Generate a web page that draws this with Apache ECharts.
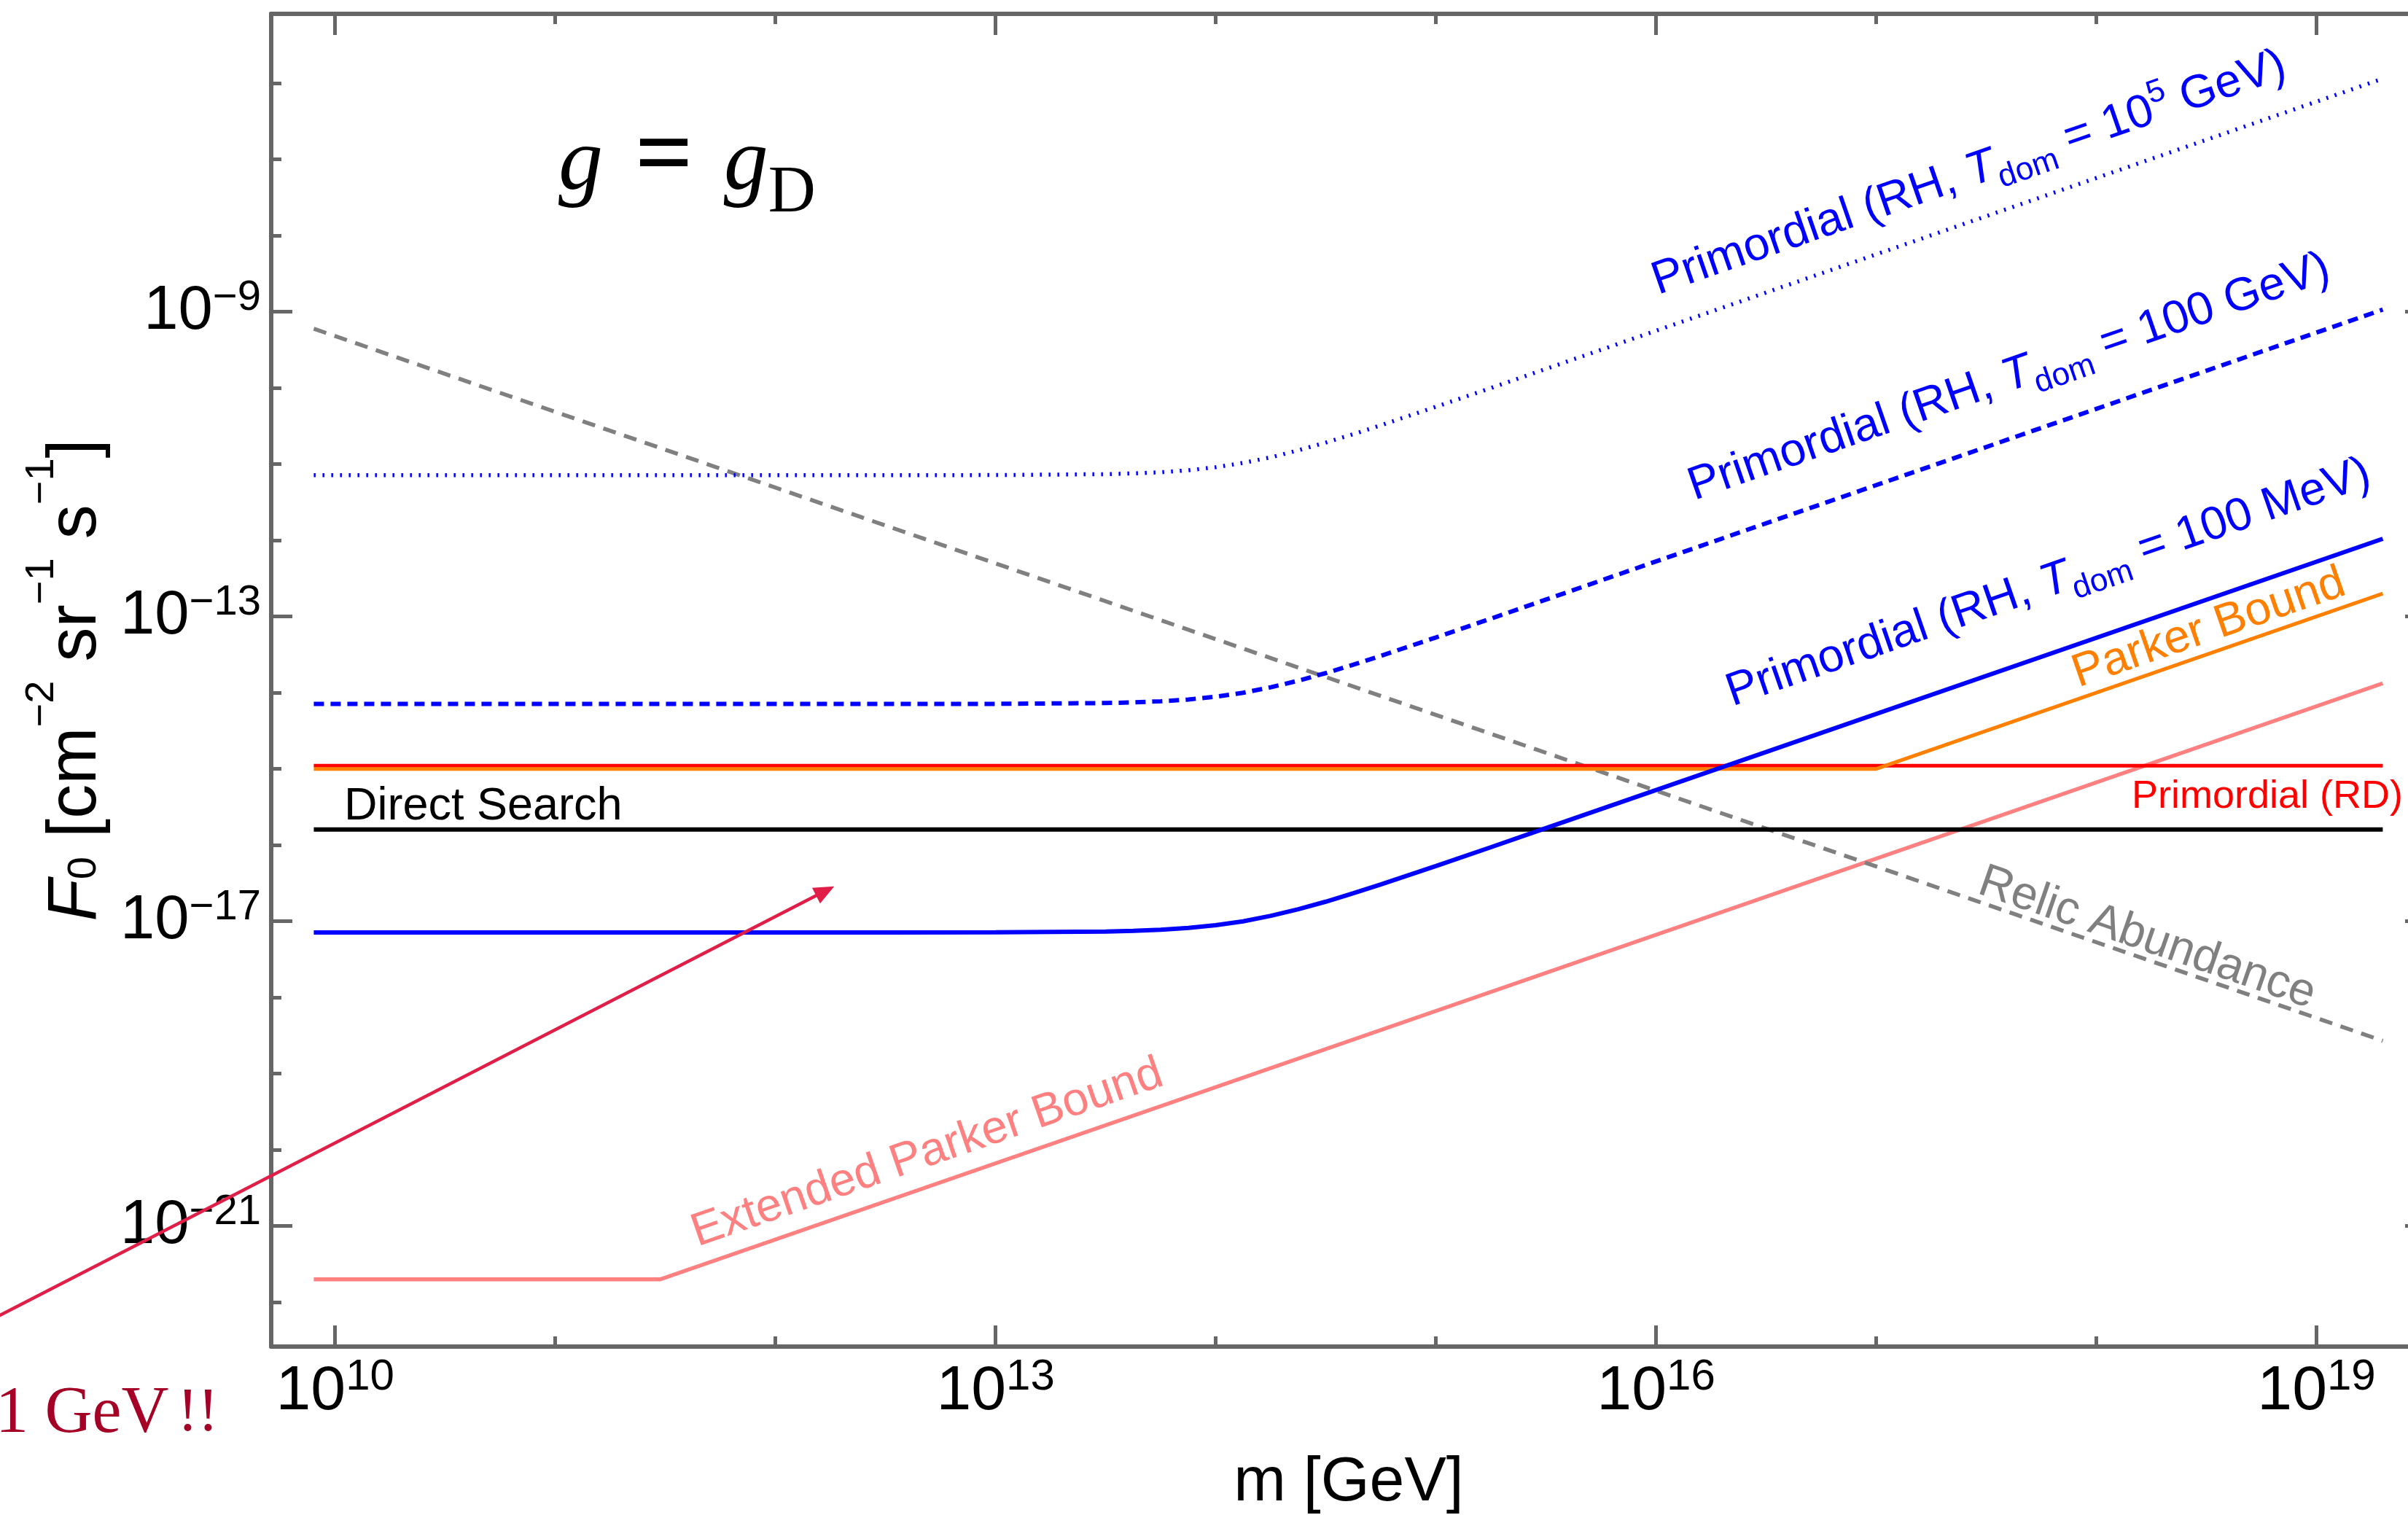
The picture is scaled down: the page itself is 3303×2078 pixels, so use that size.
<!DOCTYPE html>
<html>
<head>
<meta charset="utf-8">
<script src="https://cdn.jsdelivr.net/npm/echarts@6/dist/echarts.min.js"></script>
<style>
html,body{margin:0;padding:0;background:#ffffff;}
#c{width:3303px;height:2078px;}
</style>
</head>
<body>
<div id="c"></div>
<script>
// ---------------- data ----------------
// tick positions
const xTickMajor = [1e10, 1e13, 1e16, 1e19];
const xTickMinor = [1e10, 1e11, 1e12, 1e13, 1e14, 1e15, 1e16, 1e17, 1e18, 1e19];
const yTickMajor = [1e-9, 1e-13, 1e-17, 1e-21];
const yTickMinor = [1e-6, 1e-7, 1e-8, 1e-9, 1e-10, 1e-11, 1e-12, 1e-13, 1e-14, 1e-15, 1e-16,
                    1e-17, 1e-18, 1e-19, 1e-20, 1e-21, 1e-22];

// Relic Abundance (grey dashed)
const relicMass = [8e9, 2e19];
const relicFlux = [6.0e-10, 2.7e-19];

// Direct Search (black)
const directMass = [8e9, 2e19];
const directFlux = [1.6e-16, 1.6e-16];

// Primordial (RD) (red)
const rdMass = [8e9, 2e19];
const rdFlux = [1.1e-15, 1.1e-15];

// Parker Bound (orange)
const parkerMass = [8e9, 1e17, 2e19];
const parkerFlux = [1e-15, 1e-15, 2.0e-13];

// Extended Parker Bound (salmon)
const extParkerMass = [8e9, 3e11, 2e19];
const extParkerFlux = [2e-22, 2e-22, 1.33e-14];

// Primordial (RH) curves, common mass samples
const rhMass = [8e9, 3.16e12, 1e13, 3.16e13, 4.22e13, 5.62e13, 7.5e13, 1e14, 1.33e14, 1.78e14,
                2.37e14, 3.16e14, 4.22e14, 5.62e14, 1e15, 1.78e15, 3.16e15, 2e19];
const rh100MeVFlux = [7.14e-18, 7.14e-18, 7.16e-18, 7.34e-18, 7.48e-18, 7.74e-18, 8.17e-18, 8.88e-18,
                      1.00e-17, 1.18e-17, 1.44e-17, 1.81e-17, 2.34e-17, 3.05e-17, 5.32e-17, 9.40e-17,
                      1.67e-16, 1.05e-12];
const rh100GeVFlux = [7.13e-15, 7.13e-15, 7.15e-15, 7.33e-15, 7.47e-15, 7.73e-15, 8.16e-15, 8.87e-15,
                      1.00e-14, 1.18e-14, 1.44e-14, 1.81e-14, 2.34e-14, 3.05e-14, 5.32e-14, 9.40e-14,
                      1.67e-13, 1.07e-9];
const rh1e5GeVFlux = [7.18e-12, 7.18e-12, 7.20e-12, 7.40e-12, 7.56e-12, 7.84e-12, 8.33e-12, 9.12e-12,
                      1.04e-11, 1.23e-11, 1.52e-11, 1.92e-11, 2.48e-11, 3.24e-11, 5.67e-11, 1.00e-10,
                      1.78e-10, 1.15e-6];

// annotation arrow (data coordinates)
const arrowFrom = [2e8, 3.69e-23];
const arrowTo = [1.85e12, 2.88e-17];

// axis ranges (exponents)
const xRangeExp = [9.7096, 19.4984];
const yRangeExp = [-22.582, -5.089];

// ---------------- styling ----------------
const SANS = '"Liberation Sans", Arial, Helvetica, sans-serif';
const SERIF = '"Liberation Serif", "Times New Roman", serif';
const AX = '#666666';
const xMin = Math.pow(10, xRangeExp[0]), xMax = Math.pow(10, xRangeExp[1]);
const yMin = Math.pow(10, yRangeExp[0]), yMax = Math.pow(10, yRangeExp[1]);

function powLabel(v) {
  const e = Math.round(Math.log10(v));
  return '{b|10}{s|' + (e < 0 ? '\u2212' + (-e) : String(e)) + '}';
}

function xAx(pos, ticks, len, main) {
  const a = {
    type: 'log', logBase: 10, gridIndex: 0, position: pos, min: xMin, max: xMax,
    axisLine: { show: main, onZero: false, lineStyle: { color: AX, width: 6 } },
    axisTick: { show: true, inside: true, length: len, customValues: ticks,
                lineStyle: { color: AX, width: 5 } },
    minorTick: { show: false }, splitLine: { show: false }, minorSplitLine: { show: false },
    axisLabel: { show: false }, silent: true, z: 10
  };
  if (pos === 'bottom' && main) {
    a.axisLabel = {
      show: true, customValues: xTickMajor, margin: 12, formatter: powLabel,
      rich: {
        b: { fontFamily: SANS, fontSize: 86, lineHeight: 100, color: '#000' },
        s: { fontFamily: SANS, fontSize: 60, verticalAlign: 'top', color: '#000' }
      }
    };
    a.name = 'm [GeV]';
    a.nameLocation = 'middle';
    a.nameGap = 137;
    a.nameMoveOverlap = false;
    a.nameTextStyle = { fontFamily: SANS, fontSize: 86, lineHeight: 100, color: '#000' };
  }
  return a;
}

function yAx(pos, ticks, len, main) {
  const a = {
    type: 'log', logBase: 10, gridIndex: 0, position: pos, min: yMin, max: yMax,
    axisLine: { show: main, onZero: false, lineStyle: { color: AX, width: 6 } },
    axisTick: { show: true, inside: true, length: len, customValues: ticks,
                lineStyle: { color: AX, width: 5 } },
    minorTick: { show: false }, splitLine: { show: false }, minorSplitLine: { show: false },
    axisLabel: { show: false }, silent: true, z: 10
  };
  if (pos === 'left' && main) {
    a.axisLabel = {
      show: true, customValues: yTickMajor, margin: 14, formatter: powLabel,
      rich: {
        b: { fontFamily: SANS, fontSize: 85, lineHeight: 96, color: '#000' },
        s: { fontFamily: SANS, fontSize: 58, verticalAlign: 'top', color: '#000' }
      }
    };
    a.name = '{it|F}{sub|0}{n| [cm}{sup|\u22122}{n| sr}{sup|\u22121}{n| s}{sup|\u22121}{n|]}';
    a.nameLocation = 'middle';
    a.nameGap = 192;
    a.nameMoveOverlap = false;
    a.nameTextStyle = {
      color: '#000',
      rich: {
        n: { fontFamily: SANS, fontSize: 94, lineHeight: 150, color: '#000' },
        it: { fontFamily: SANS, fontSize: 94, fontStyle: 'italic', lineHeight: 150, color: '#000' },
        sub: { fontFamily: SANS, fontSize: 56, verticalAlign: 'bottom', padding: [0, 0, 36, 0], color: '#000' },
        sup: { fontFamily: SANS, fontSize: 56, verticalAlign: 'top', color: '#000' }
      }
    };
  }
  return a;
}

function line(name, m, f, color, width, type, z) {
  return {
    name: name, type: 'line', xAxisIndex: 0, yAxisIndex: 0,
    data: m.map(function (x, i) { return [x, f[i]]; }),
    showSymbol: false, symbol: 'none', smooth: false,
    lineStyle: { color: color, width: width, type: type, cap: 'butt' },
    z: z, silent: true
  };
}

const chart = echarts.init(document.getElementById('c'), null, { renderer: 'canvas', width: 3303, height: 2078 });

chart.setOption({
  animation: false,
  backgroundColor: '#ffffff',
  grid: { left: 372, top: 19, width: 2956, height: 1828, containLabel: false, outerBoundsMode: 'none', show: false },
  xAxis: [
    xAx('bottom', xTickMajor, 29, true),
    xAx('bottom', xTickMinor, 14, false),
    xAx('top', xTickMajor, 29, true),
    xAx('top', xTickMinor, 14, false)
  ],
  yAxis: [
    yAx('left', yTickMajor, 29, true),
    yAx('left', yTickMinor, 14, false),
    yAx('right', yTickMajor, 29, true),
    yAx('right', yTickMinor, 14, false)
  ],
  series: [
    line('Extended Parker Bound', extParkerMass, extParkerFlux, '#ff8080', 5.5, 'solid', 2),
    line('Relic Abundance', relicMass, relicFlux, '#808080', 5.5, [18, 12], 3),
    line('Direct Search', directMass, directFlux, '#000000', 6, 'solid', 3),
    line('Primordial (RD)', rdMass, rdFlux, '#ff0000', 5, 'solid', 3),
    line('Parker Bound', parkerMass, parkerFlux, '#ff8000', 5, 'solid', 4),
    line('Primordial (RH, Tdom = 100 MeV)', rhMass, rh100MeVFlux, '#0000ff', 6, 'solid', 5),
    line('Primordial (RH, Tdom = 100 GeV)', rhMass, rh100GeVFlux, '#0000ff', 6, [14, 9], 5),
    line('Primordial (RH, Tdom = 10^5 GeV)', rhMass, rh1e5GeVFlux, '#0000ff', 5.5, [2.5, 9.5], 5)
  ]
});

// ---------------- annotations ----------------
const ROT = Math.atan(104.5 / 302);
function blueRich(color, fs) {
  return {
    n: { fontFamily: SANS, fontSize: fs, lineHeight: 86, fill: color },
    it: { fontFamily: SANS, fontSize: fs, fontStyle: 'italic', lineHeight: 86, fill: color },
    sub: { fontFamily: SANS, fontSize: 44, verticalAlign: 'bottom', fill: color },
    sup: { fontFamily: SANS, fontSize: 44, verticalAlign: 'top', fill: color }
  };
}
function rotText(text, x, y, rot, color, fs) {
  fs = fs || 64;
  return {
    type: 'text', x: x, y: y, rotation: rot, z: 50, silent: true,
    style: { text: text, rich: blueRich(color, fs), fill: color, align: 'center', verticalAlign: 'middle',
             fontFamily: SANS, fontSize: fs }
  };
}

const p0 = chart.convertToPixel({ xAxisIndex: 0, yAxisIndex: 0 }, arrowFrom);
const p1 = chart.convertToPixel({ xAxisIndex: 0, yAxisIndex: 0 }, arrowTo);
const dx = p1[0] - p0[0], dy = p1[1] - p0[1];
const L = Math.sqrt(dx * dx + dy * dy);
const ux = dx / L, uy = dy / L;
const headLen = 28, headHalf = 12;
const bx = p1[0] - headLen * ux, by = p1[1] - headLen * uy;
const ARROW = '#e01e48';

chart.setOption({
  graphic: [
    { type: 'line', z: 60, silent: true,
      shape: { x1: p0[0], y1: p0[1], x2: bx + 2 * ux, y2: by + 2 * uy },
      style: { stroke: ARROW, lineWidth: 4.5 } },
    { type: 'polygon', z: 60, silent: true,
      shape: { points: [[p1[0], p1[1]], [bx - headHalf * uy, by + headHalf * ux], [bx + headHalf * uy, by - headHalf * ux]] },
      style: { fill: ARROW } },
    { type: 'text', x: -6, y: 1940, z: 60, silent: true,
      style: { text: '{a|1 GeV}{b|!!}', align: 'left', verticalAlign: 'middle', fill: '#a50026',
               rich: {
                 a: { fontFamily: SERIF, fontSize: 90, fill: '#a50026' },
                 b: { fontFamily: SERIF, fontSize: 84, fill: '#a50026', padding: [0, 0, 0, 12] }
               } } },
    { type: 'text', x: 766, y: 141.5, z: 60, silent: true,
      style: {
        text: '{g|g}{eq|=}{g|g}{d|D}', align: 'left', verticalAlign: 'top', fill: '#000',
        rich: {
          g: { fontFamily: SERIF, fontStyle: 'italic', fontSize: 122, lineHeight: 170, fill: '#000' },
          eq: { fontFamily: SERIF, fontWeight: 'bold', fontSize: 140, lineHeight: 170, padding: [0, 42, 14, 44], fill: '#000' },
          d: { fontFamily: SERIF, fontSize: 90, verticalAlign: 'bottom', fill: '#000' }
        }
      } },
    { type: 'text', x: 472, y: 1107, z: 60, silent: true,
      style: { text: 'Direct Search', fontFamily: SANS, fontSize: 63, fill: '#000000', align: 'left', verticalAlign: 'middle' } },
    { type: 'text', x: 3296, y: 1093, z: 60, silent: true,
      style: { text: 'Primordial (RD)', fontFamily: SANS, fontSize: 54, fill: '#ff0000', align: 'right', verticalAlign: 'middle' } },
    rotText('{n|Primordial (RH, }{it|T}{sub|dom}{n| = 10}{sup|5}{n| GeV)}', 2701, 238, ROT, '#0000ff'),
    rotText('{n|Primordial (RH, }{it|T}{sub|dom}{n| = 100 GeV)}', 2756, 518, ROT, '#0000ff'),
    rotText('{n|Primordial (RH, }{it|T}{sub|dom}{n| = 100 MeV)}', 2810, 800, ROT, '#0000ff'),
    rotText('{n|Parker Bound}', 3030, 862, ROT, '#ff8000'),
    rotText('{n|Relic Abundance}', 2945, 1287, -ROT, '#808080'),
    rotText('{n|Extended Parker Bound}', 1272, 1582, ROT, '#ff8080')
  ]
});
</script>
</body>
</html>
